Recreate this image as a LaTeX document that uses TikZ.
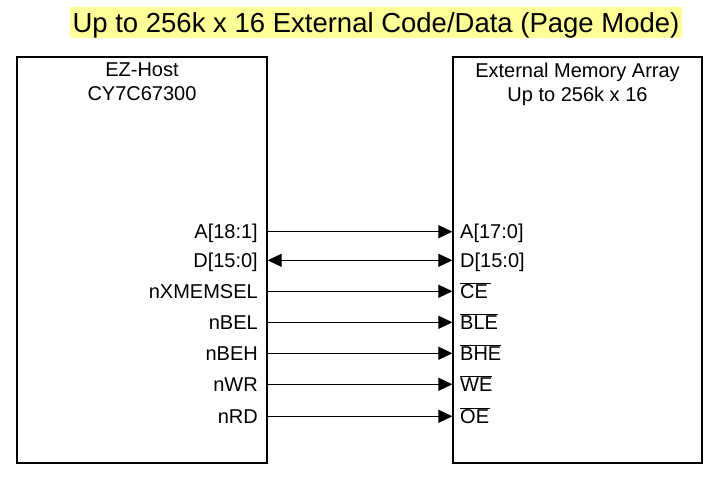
\documentclass[tikz,border=0pt]{standalone}
\usepackage{fontspec}
\setmainfont{Liberation Sans}
\usepackage{xcolor}
\usetikzlibrary{positioning,arrows.meta}
\definecolor{hilite}{HTML}{FFFF99}

\begin{document}
\begin{tikzpicture}[x=1pt, y=-1pt, node distance=6pt,
  chip/.style={rectangle, draw, line width=1.2pt, inner sep=0pt},
  pin/.style={inner sep=0pt, text height=14.3pt, text depth=0pt, font=\fontsize{20}{24}\selectfont},
  sig/.style={line width=1pt, -{Triangle[length=14pt,width=13pt]}},
  bus/.style={line width=1pt, {Triangle[length=14pt,width=13pt]}-{Triangle[length=14pt,width=13pt]}}]
\useasboundingbox (0,0) rectangle (723,478);

\node[fill=hilite, inner xsep=3pt, inner ysep=0pt, minimum height=31pt, text height=19.8pt, text depth=0pt, font=\fontsize{27.5}{33}\selectfont] (title) at (376,22.5) {Up to 256k x 16 External Code/Data (Page Mode)};

\node[chip, minimum width=250pt, minimum height=406pt] (host) at (142,260) {};
\node[chip, minimum width=249pt, minimum height=406pt] (mem) at (577.5,260) {};
\node[align=center, inner sep=0pt, font=\fontsize{20}{24}\selectfont, below=6.5pt of host.north] (hostname) {EZ-Host\\CY7C67300};
\node[align=center, inner sep=0pt, font=\fontsize{20}{24}\selectfont, below=6.5pt of mem.north] (memname) {External Memory Array\\Up to 256k x 16};

% host side pins
\node[pin, anchor=east] (hA) at (258,231.7) {A[18:1]};
\node[pin, anchor=east] (hD) at (258,260.3) {D[15:0]};
\node[pin, anchor=east] (hCE) at (258,291.3) {nXMEMSEL};
\node[pin, anchor=east] (hBL) at (258,322.3) {nBEL};
\node[pin, anchor=east] (hBH) at (258,353.3) {nBEH};
\node[pin, anchor=east] (hWR) at (258,384.3) {nWR};
\node[pin, anchor=east] (hRD) at (258,416.3) {nRD};

% memory side pins
\node[pin, anchor=west] (mA) at (460,231.7) {A[17:0]};
\node[pin, anchor=west] (mD) at (460,260.3) {D[15:0]};
\node[pin, anchor=west] (mCE) at (460,291.3) {$\overline{\mbox{CE}\kern3pt}$};
\node[pin, anchor=west] (mBL) at (460,322.3) {$\overline{\mbox{BLE}}$};
\node[pin, anchor=west] (mBH) at (460,353.3) {$\overline{\mbox{BHE}}$};
\node[pin, anchor=west] (mWE) at (460,384.3) {$\overline{\mbox{WE}}$};
\node[pin, anchor=west] (mOE) at (460,416.3) {$\overline{\mbox{OE}\kern1pt}$};

\draw[sig] (host.east |- hA) -- (mem.west |- mA);
\draw[bus] (host.east |- hD) -- (mem.west |- mD);
\draw[sig] (host.east |- hCE) -- (mem.west |- mCE);
\draw[sig] (host.east |- hBL) -- (mem.west |- mBL);
\draw[sig] (host.east |- hBH) -- (mem.west |- mBH);
\draw[sig] (host.east |- hWR) -- (mem.west |- mWE);
\draw[sig] (host.east |- hRD) -- (mem.west |- mOE);
\end{tikzpicture}
\end{document}
